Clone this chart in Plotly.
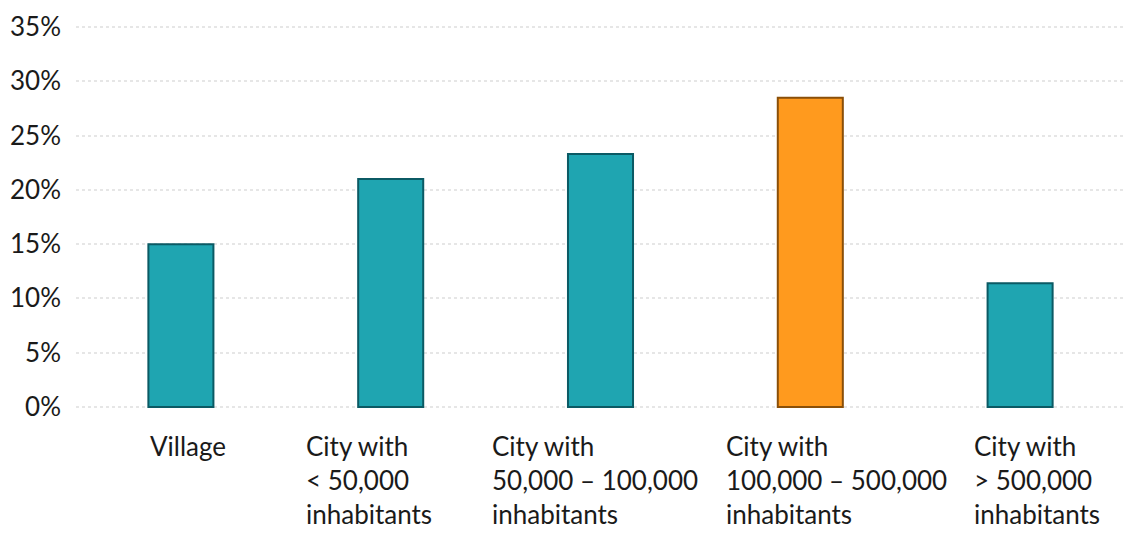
import plotly.graph_objects as go

# Share of respondents by place of residence
categories = [
    "Village",
    "City with<br>< 50,000<br>inhabitants",
    "City with<br>50,000 – 100,000<br>inhabitants",
    "City with<br>100,000 – 500,000<br>inhabitants",
    "City with<br>> 500,000<br>inhabitants",
]
values = [15.0, 21.0, 23.3, 28.5, 11.4]
highlight = [False, False, False, True, False]

y_ticks = [0, 5, 10, 15, 20, 25, 30, 35]
y_tick_labels = [f"{t}%" for t in y_ticks]

# layout settings (horizontal nudges of the category captions, in px)
label_shift = [-33, -87, -111, -86, -48]
FONT = "Lato, 'Liberation Sans', sans-serif"
TEAL, TEAL_EDGE = "#1fa5b1", "#0b5a64"
ORANGE, ORANGE_EDGE = "#ff9a1e", "#8a4f08"

x_idx = list(range(len(categories)))
fill = [ORANGE if h else TEAL for h in highlight]
edge = [ORANGE_EDGE if h else TEAL_EDGE for h in highlight]

fig = go.Figure()
fig.add_trace(go.Bar(
    x=x_idx,
    y=values,
    width=0.31,
    marker=dict(color=fill, line=dict(color=edge, width=2)),
    hoverinfo="skip",
))

annotations = []
for i, (cat, dx) in enumerate(zip(categories, label_shift)):
    annotations.append(dict(
        x=i, xref="x", y=0, yref="paper",
        text=cat, showarrow=False, align="left",
        xanchor="left", yanchor="top", xshift=dx, yshift=-20,
        font=dict(family=FONT, size=26, color="#1a1a1a"),
    ))

fig.update_layout(
    width=1125, height=537,
    margin=dict(l=76, r=0, t=26, b=129),
    paper_bgcolor="white", plot_bgcolor="white",
    showlegend=False,
    bargap=0.69,
    annotations=annotations,
    xaxis=dict(
        range=[-0.5, 4.5], showticklabels=False, showgrid=False,
        zeroline=False, showline=False, ticks="",
    ),
    yaxis=dict(
        range=[-0.1, 35.1], tickvals=y_ticks, ticktext=y_tick_labels,
        showgrid=True, gridcolor="#e6e6e6", griddash="dot", gridwidth=2,
        zeroline=False, showline=False, ticks="",
        ticklabelstandoff=14,
        tickfont=dict(family=FONT, size=26, color="#1a1a1a"),
    ),
)

fig.write_html("out.html")
